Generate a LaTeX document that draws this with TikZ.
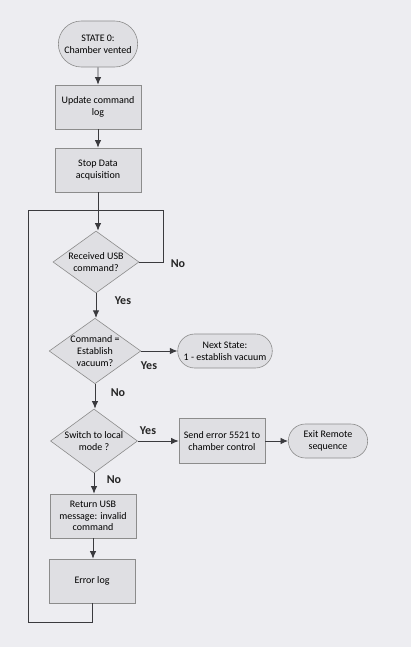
\documentclass[tikz,border=0pt]{standalone}
\usepackage{fontspec}
\setmainfont{Carlito}
\usetikzlibrary{shapes}
\usetikzlibrary{arrows.meta}

\definecolor{paper}{RGB}{237,237,241}
\definecolor{boxgray}{RGB}{223,223,227}
\definecolor{linegray}{RGB}{58,58,62}

\begin{document}
\begin{tikzpicture}[x=1pt,y=-1pt]
	 \tikzstyle{block}=[rectangle,draw=black!45,fill=boxgray,line width=0.6pt,minimum width=86pt,minimum height=44pt,align=center,font=\fontsize{10}{11.7}\selectfont]
	 \tikzstyle{terminal}=[block,rounded rectangle,minimum height=34pt]
	 \tikzstyle{decision}=[block,diamond,aspect=1.4,inner sep=0pt,minimum width=86pt,minimum height=62pt]
	 \tikzstyle{answer}=[font=\fontsize{12}{14}\selectfont\bfseries,text=black!85]

	 \tikzstyle{edge}=[draw,line width=0.9pt,linegray,-{Latex[length=7.5pt,width=6.5pt]}]
	 \tikzstyle{loop edge}=[draw,line width=0.9pt,linegray,-]

	 \fill[paper] (0,0) rectangle (411,647);
	 \useasboundingbox (0,0) rectangle (411,647);

	 \node[terminal,minimum height=46pt] (start) at (98,44) {STATE 0:\\Chamber vented};
	\node[block] (update) at (98,107) {Update command\\log};
	\node[block] (stopdaq) at (98,170) {Stop Data\\acquisition};
	\node[decision] (usb) at (96,262) {Received USB\\command?};
	\node[decision] (estab) at (95,351) {Command =\\Establish\\vacuum?};
	\node[terminal] (next) at (225,351) {Next State:\\1 - establish vacuum};
	\node[decision,minimum width=87pt,minimum height=64pt] (local) at (94,441) {Switch to local\\mode ?};
	\node[block,minimum height=45pt] (senderr) at (222,441) {Send error 5521 to\\chamber control};
	\node[terminal] (exit) at (328,441) {Exit Remote\\sequence};
	\node[block] (retusb) at (93,516) {Return USB\\message: invalid\\command};
	\node[block] (errlog) at (92,581) {Error log};

	\coordinate (join) at (98,210);
	\coordinate (loopR) at (163,210);
	\coordinate (loopB) at (28,622);

	\node[answer] (usbno) at (178,264) {No};
	\node[answer] (usbyes) at (123,301) {Yes};
	\node[answer] (estabyes) at (149,366) {Yes};
	\node[answer] (estabno) at (118,393) {No};
	\node[answer] (localyes) at (148,431) {Yes};
	\node[answer] (localno) at (114,480) {No};

	\draw[edge] (start) -- (update);
	\draw[edge] (update) -- (stopdaq);
	\draw[edge] (stopdaq) -- (stopdaq |- usb.north);
	\draw[loop edge] (usb.east) -| (loopR) -- (join);
	\draw[edge] (usb) -- (usb |- estab.north);
	\draw[edge] (estab) -- (next);
	\draw[edge] (estab) -- (estab |- local.north);
	\draw[edge] (local) -- (senderr);
	\draw[edge] (senderr) -- (exit);
	\draw[edge] (local) -- (local |- retusb.north);
	\draw[edge] (retusb) -- (retusb |- errlog.north);
	\draw[loop edge] (errlog) |- (loopB) |- (join);
\end{tikzpicture}
\end{document}
